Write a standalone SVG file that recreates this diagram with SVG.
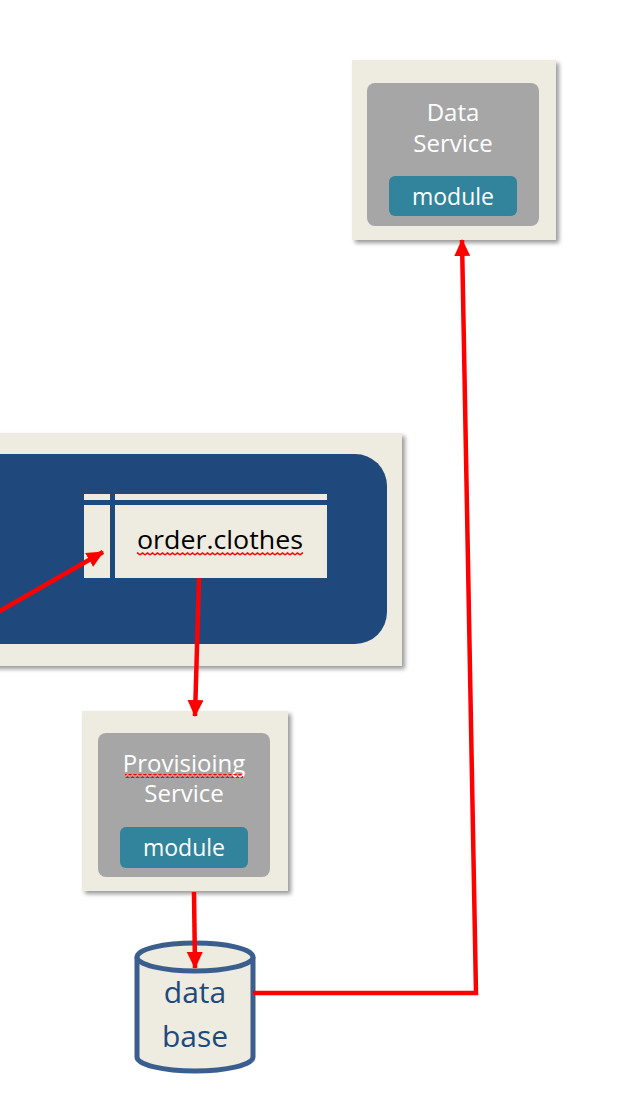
<svg xmlns="http://www.w3.org/2000/svg" width="631" height="1101" viewBox="0 0 631 1101">
<style>
.bg{fill:#EEECE1}
.gray{fill:#A6A6A6}
.teal{fill:#31849B}
.wt{fill:#FFFFFF;font-family:"Open Sans","Liberation Sans",sans-serif;font-size:24px;text-anchor:middle}
.md{font-size:23px}
.conn{stroke:#FF0000;stroke-width:4.5;fill:none}
.db{font-family:"Open Sans","Liberation Sans",sans-serif;font-size:30px;fill:#1F497D;text-anchor:middle}
</style>
<defs>
<filter id="sh" x="-10%" y="-10%" width="125%" height="125%">
<feDropShadow dx="3" dy="3" stdDeviation="2" flood-color="#000" flood-opacity="0.4"/>
</filter>
<marker id="ah" markerUnits="userSpaceOnUse" markerWidth="18" markerHeight="16" refX="16" refY="8" orient="auto">
<path d="M0,0 L17,8 L0,16 Z" fill="#FF0000"/>
</marker>
<pattern id="wave" width="5" height="4" patternUnits="userSpaceOnUse">
<path d="M0,3 L2.5,1 L5,3" stroke="#FF0000" stroke-width="1.4" fill="none"/>
</pattern>
</defs>

<g id="panel">
<rect class="bg" x="-10" y="433" width="412" height="233" filter="url(#sh)"/>
<rect x="-40" y="454" width="427" height="190" rx="32" fill="#1F497D"/>
</g>

<g id="order-clothes">
<rect class="bg" x="84" y="494" width="243" height="84"/>
<rect x="84" y="500" width="243" height="5" fill="#1F497D"/>
<rect x="110" y="494" width="5" height="84" fill="#1F497D"/>
<text x="220" y="549" font-family="'Open Sans','Liberation Sans',sans-serif" font-size="26" fill="#000" text-anchor="middle" textLength="166" lengthAdjust="spacingAndGlyphs">order.clothes</text>
<rect x="137" y="552" width="166" height="4" fill="url(#wave)"/>
</g>

<g id="data-service">
<rect class="bg" x="352" y="60" width="204" height="180" filter="url(#sh)"/>
<rect class="gray" x="367" y="83" width="172" height="143" rx="8"/>
<text class="wt" x="453" y="121">Data</text>
<text class="wt" x="453" y="152">Service</text>
<rect class="teal" x="389" y="176" width="128" height="40" rx="6"/>
<text class="wt md" x="453" y="205">module</text>
</g>

<g id="provisioning-service">
<rect class="bg" x="82" y="711" width="206" height="180" filter="url(#sh)"/>
<rect class="gray" x="98" y="733" width="172" height="144" rx="8"/>
<text class="wt" x="184" y="772">Provisioing</text>
<rect x="125" y="774" width="118" height="4" fill="url(#wave)"/>
<text class="wt" x="184" y="802">Service</text>
<rect class="teal" x="120" y="827" width="128" height="41" rx="6"/>
<text class="wt md" x="184" y="856">module</text>
</g>

<g id="database">
<path d="M137,957 L137,1057 A58,14 0 0 0 253,1057 L253,957" fill="#EEECE1" stroke="#3A5F8F" stroke-width="5"/>
<ellipse cx="195" cy="957" rx="58" ry="14" fill="#EEECE1" stroke="#3A5F8F" stroke-width="5"/>
<text class="db" x="195" y="1003">data</text>
<text class="db" x="195" y="1047">base</text>
</g>

<g id="connectors">
<line class="conn" x1="-2" y1="612" x2="103" y2="552" marker-end="url(#ah)"/>
<line class="conn" x1="199" y1="578" x2="195" y2="716" marker-end="url(#ah)"/>
<line class="conn" x1="194" y1="892" x2="195" y2="968" marker-end="url(#ah)"/>
<polyline class="conn" points="253,993 476,993 462,240" marker-end="url(#ah)"/>
</g>
</svg>
